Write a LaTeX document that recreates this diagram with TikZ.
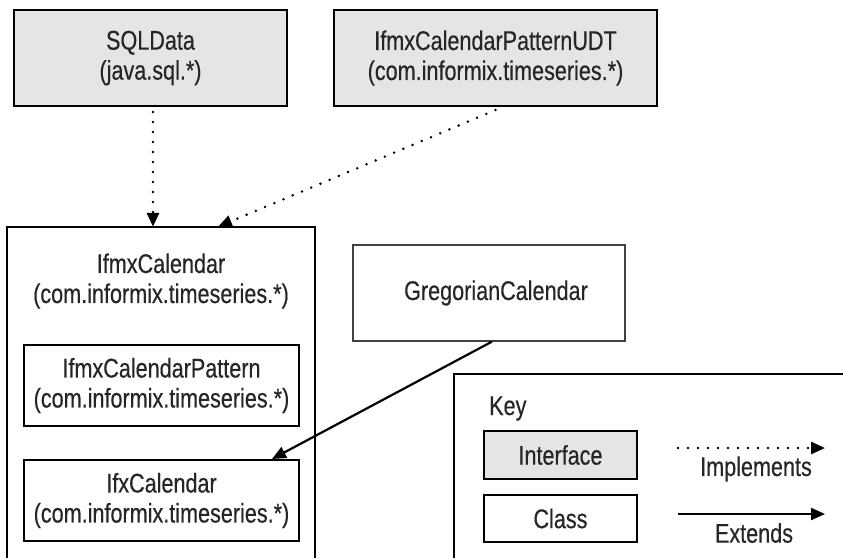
\documentclass[tikz,border=0pt]{standalone}
\usepackage{fontspec}
\setmainfont[FakeStretch=0.8,FakeBold=0.4]{Liberation Sans}
\usetikzlibrary{arrows.meta,calc,positioning}

\begin{document}
\begin{tikzpicture}[
    x=1pt, y=-1pt,
    every node/.style={font=\fontsize{27}{30}\selectfont, text=black!85, align=center, inner sep=0pt},
    iface/.style={draw, line width=2pt, fill=gray!20},
    klass/.style={draw, line width=2pt, fill=white},
    frame/.style={line width=2pt},
    implements/.style={line width=2.8pt, line cap=round, dash pattern=on 0pt off 10pt, -{Triangle[length=14pt,width=12pt]}},
    extends/.style={line width=2.2pt, -{Triangle[length=14pt,width=12pt]}}
]
    \useasboundingbox (0,0) rectangle (843,558);

    % interfaces on top
    \node[iface, minimum width=273pt, minimum height=96pt] (sqldata) at (150.5,58) {SQLData\\(java.sql.*)};
    \node[iface, minimum width=323pt, minimum height=96pt] (udt) at (495.5,58) {IfmxCalendarPatternUDT\\(com.informix.timeseries.*)};

    % IfmxCalendar, open at the bottom
    \node[minimum width=307pt, minimum height=331pt] (ifmx) at (161,392.5) {};
    \draw[frame] (ifmx.south west) -- (ifmx.north west) -- (ifmx.north east) -- (ifmx.south east);
    \node (ifmxname) at (161,281) {IfmxCalendar\\(com.informix.timeseries.*)};
    \node[klass, minimum width=275pt, minimum height=81pt] (pattern) at (161.5,385.5) {IfmxCalendarPattern\\(com.informix.timeseries.*)};
    \node[klass, minimum width=275pt, minimum height=81pt] (ifx) at (161.5,500.5) {IfxCalendar\\(com.informix.timeseries.*)};

    \node[draw=black!75, line width=1.2pt, minimum width=272pt, minimum height=96pt] (greg) at (489,293) {\hspace*{14pt}GregorianCalendar};

    % connectors
    \draw[implements] ($(sqldata.south)+(2.5,5)$) -- ($(sqldata.south |- ifmx.north)+(2.5,0)$);
    \draw[implements] ($(udt.south)+(0,3)$) -- ($(ifmx.north)+(57,0)$);
    \draw[extends] ($(greg.south)+(3,0)$) -- ($(ifx.north east)+(-28,0)$);

    % key
    \node[minimum width=389pt, minimum height=184pt, anchor=north west] (keyframe) at (454,374) {};
    \draw[frame] (keyframe.south west) -- (keyframe.north west) -- (keyframe.north east);
    \node[anchor=base west] (keyname) at (489,415) {Key};
    \node[iface, minimum width=153pt, minimum height=48pt] (keyiface) at (560.5,455) {Interface};
    \node[klass, minimum width=153pt, minimum height=47pt] (keyclass) at (560.5,518.5) {Class};
    \coordinate (implfrom) at (678,448);
    \coordinate (implto) at (825,448);
    \coordinate (extfrom) at (678,514);
    \coordinate (extto) at (825,514);
    \draw[implements] (implfrom) -- (implto);
    \draw[extends] (extfrom) -- (extto);
    \node (impllabel) at (756,469) {Implements};
    \node (extlabel) at (754,533) {Extends};
\end{tikzpicture}
\end{document}
